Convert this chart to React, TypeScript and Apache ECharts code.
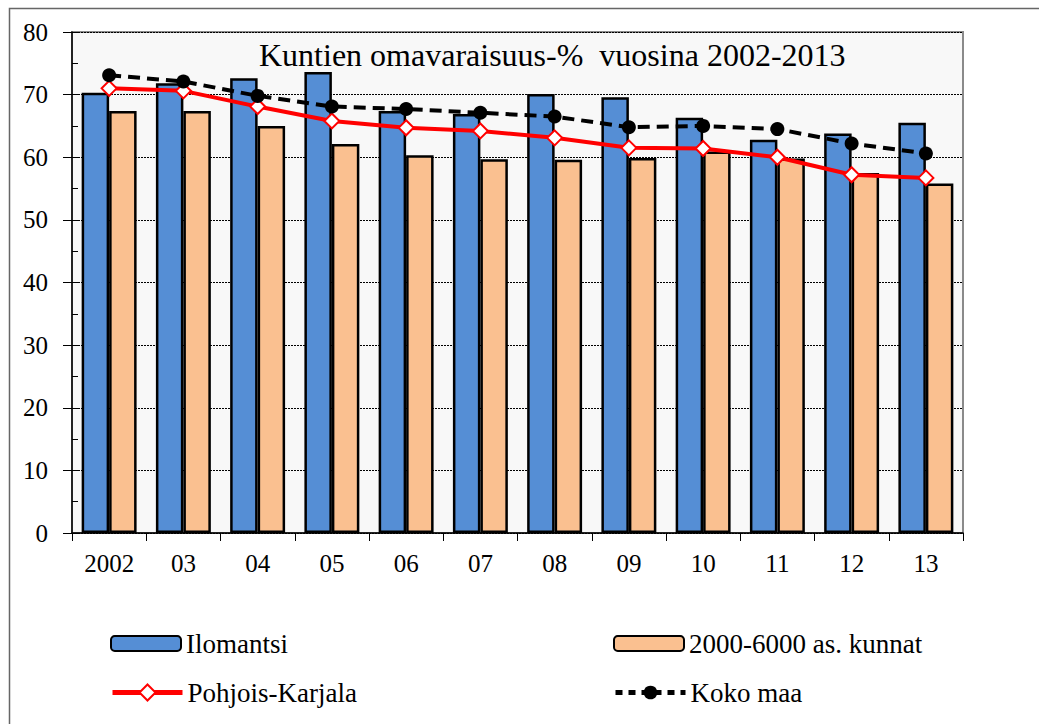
import React, { useEffect, useRef } from "react";
import * as echarts from "echarts";

const categories = ["2002", "03", "04", "05", "06", "07", "08", "09", "10", "11", "12", "13"];
const ilomantsi = [70.3, 71.8, 72.6, 73.6, 67.4, 66.9, 70.1, 69.6, 66.3, 62.8, 63.8, 65.5];
const kunnat = [67.4, 67.4, 65.0, 62.1, 60.3, 59.7, 59.6, 59.9, 60.9, 59.8, 57.5, 55.8];
const pohjoisKarjala = [71.0, 70.6, 68.1, 65.8, 64.7, 64.2, 63.1, 61.5, 61.4, 60.0, 57.2, 56.7];
const kokoMaa = [73.1, 72.1, 69.8, 68.1, 67.7, 67.1, 66.5, 64.8, 65.0, 64.5, 62.2, 60.6];
const titleText = "Kuntien omavaraisuus-%  vuosina 2002-2013";

const FONT = "Liberation Serif";

export default function App() {
  const ref = useRef<HTMLDivElement>(null);
  useEffect(() => {
    document.body.style.margin = "0";
    if (!ref.current) return;
    const chart = echarts.init(ref.current, null, { renderer: "svg" });
    const legendCommon = {
      itemWidth: 70,
      itemHeight: 15,
      itemGap: 0,
      padding: 0,
      textStyle: { fontFamily: FONT, fontSize: 27, color: "#000" },
    };
    chart.setOption({
      animation: false,
      backgroundColor: "#fff",
      title: {
        text: titleText,
        left: 259,
        top: 39,
        padding: 0,
        textStyle: { fontFamily: FONT, fontSize: 32, fontWeight: "normal", color: "#000" },
      },
      graphic: [
        {
          type: "rect",
          shape: { x: 9.5, y: 8.5, width: 1100, height: 800 },
          style: { fill: "none", stroke: "#666", lineWidth: 1.5 },
          silent: true,
        },
      ],
      legend: [
        { ...legendCommon, data: ["Ilomantsi"], left: 110, top: 630 },
        { ...legendCommon, data: ["2000-6000 as. kunnat"], left: 613, top: 630 },
        {
          ...legendCommon,
          itemHeight: 20,
          data: ["Pohjois-Karjala"],
          left: 110,
          top: 679,
          lineStyle: { width: 5, color: "#ff0000" },
        },
        {
          ...legendCommon,
          itemHeight: 17,
          data: ["Koko maa"],
          left: 613,
          top: 679,
          lineStyle: { width: 5, color: "#000", type: [7, 6] },
        },
      ],
      grid: {
        left: 72,
        top: 32,
        width: 891,
        height: 501,
        show: true,
        backgroundColor: "#f8f8f8",
        borderColor: "#8a8a8a",
        borderWidth: 2,
      },
      xAxis: {
        type: "category",
        data: categories,
        boundaryGap: true,
        axisLine: { lineStyle: { color: "#000", width: 1.5 } },
        axisTick: { show: true, length: 8, lineStyle: { color: "#000", width: 1 } },
        axisLabel: { fontFamily: FONT, fontSize: 25, color: "#000", margin: 18 },
      },
      yAxis: [
        {
          type: "value",
          min: 0,
          max: 80,
          interval: 10,
          axisLine: { show: true, lineStyle: { color: "#000", width: 1.5 } },
          axisTick: { show: true, length: 9, lineStyle: { color: "#000", width: 1 } },
          axisLabel: { fontFamily: FONT, fontSize: 25, color: "#000", margin: 24 },
          splitLine: { show: true, lineStyle: { color: "#000", width: 1, type: [2, 1] } },
        },
        {
          type: "value",
          min: 0,
          max: 80,
          interval: 5,
          position: "left",
          axisLine: { show: false },
          axisTick: { show: true, inside: true, length: 6, lineStyle: { color: "#000", width: 1 } },
          axisLabel: { show: false },
          splitLine: { show: false },
        },
      ],
      series: [
        {
          name: "Ilomantsi",
          type: "bar",
          data: ilomantsi,
          barGap: "0%",
          barCategoryGap: "26%",
          itemStyle: { color: "#558ed5", borderColor: "#000", borderWidth: 2.5 },
        },
        {
          name: "2000-6000 as. kunnat",
          type: "bar",
          data: kunnat,
          barGap: "0%",
          barCategoryGap: "26%",
          itemStyle: { color: "#fac090", borderColor: "#000", borderWidth: 2.5 },
        },
        {
          name: "Pohjois-Karjala",
          type: "line",
          data: pohjoisKarjala,
          symbol: "diamond",
          symbolSize: 15,
          lineStyle: { color: "#ff0000", width: 4 },
          itemStyle: { color: "#fff", borderColor: "#ff0000", borderWidth: 2 },
          z: 3,
        },
        {
          name: "Koko maa",
          type: "line",
          data: kokoMaa,
          symbol: "circle",
          symbolSize: 14,
          lineStyle: { color: "#000", width: 4, type: [12, 7] },
          itemStyle: { color: "#000" },
          z: 4,
        },
      ],
    });
    return () => chart.dispose();
  }, []);
  return (
    <div
      ref={ref}
      style={{ position: "absolute", left: 0, top: 0, width: 1039, height: 724 }}
    />
  );
}
